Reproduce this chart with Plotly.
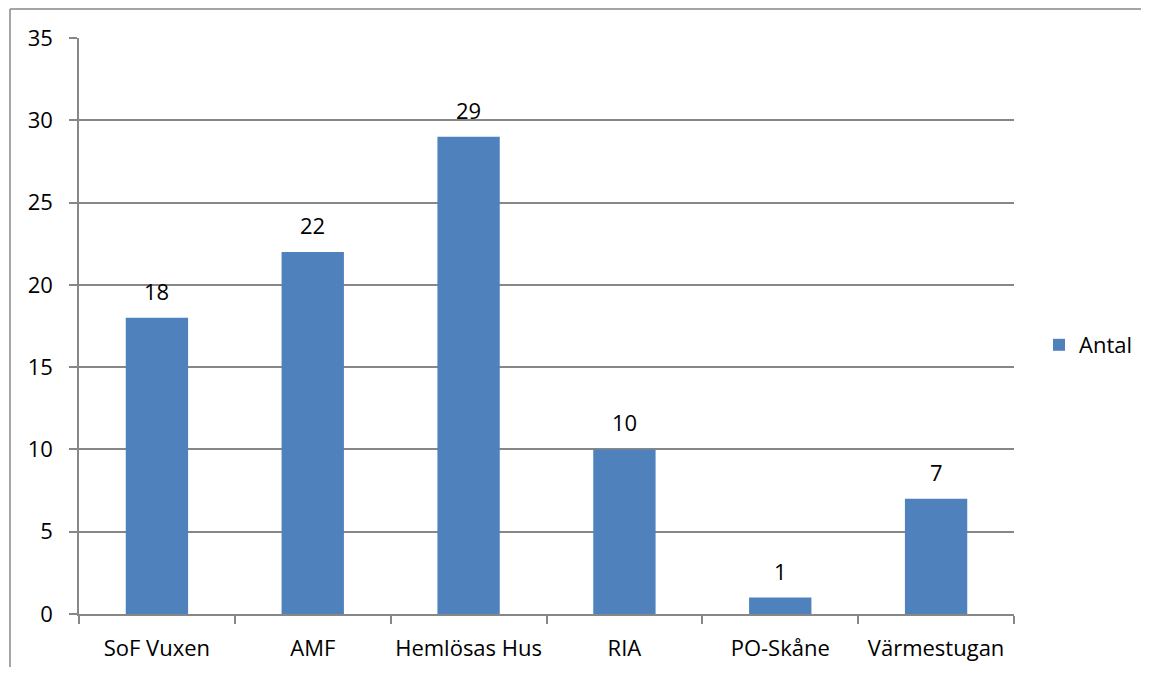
import plotly.graph_objects as go

categories = ["SoF Vuxen", "AMF", "Hemlösas Hus", "RIA", "PO-Skåne", "Värmestugan"]
values = [18, 22, 29, 10, 1, 7]
series_name = "Antal"
y_ticks = [0, 5, 10, 15, 20, 25, 30, 35]

# page has an 8px body margin; figure coordinates = page coordinates - 8
OFF = 8
W, H = 1133, 659
L, T = 79 - OFF, 38 - OFF
R = W - (1014 - OFF)
B = H - (614 - OFF)
pw, ph = W - L - R, H - T - B

def px(xp):
    return (xp - OFF - L) / pw

def py(yp):
    return (H - B - (yp - OFF)) / ph

FONT = "Open Sans"
FS = 22
GREY = "#878787"

fig = go.Figure()
fig.add_trace(go.Bar(
    x=categories, y=values, name=series_name,
    marker=dict(color="#4F81BD", line=dict(width=0)),
    showlegend=True,
))

for c, v in zip(categories, values):
    fig.add_annotation(x=c, y=v, text=str(v), showarrow=False,
                       yanchor="bottom", yshift=10,
                       font=dict(family=FONT, size=FS, color="#000000"))

fig.update_layout(
    template="none",
    width=W, height=H,
    margin=dict(l=L, r=R, t=T, b=B, pad=0, autoexpand=False),
    paper_bgcolor="white", plot_bgcolor="white",
    bargap=0.6,
    font=dict(family=FONT, size=FS, color="#000000"),
    showlegend=True,
    legend=dict(x=px(1039), y=py(345), xanchor="left", yanchor="middle",
                font=dict(family=FONT, size=FS, color="#000000"),
                itemwidth=30, bgcolor="rgba(0,0,0,0)", borderwidth=0),
    xaxis=dict(
        showgrid=False, showline=True, linecolor=GREY, linewidth=1.5,
        ticks="outside", tickson="boundaries", ticklen=8, tickcolor=GREY, tickwidth=1.5,
        tickfont=dict(family=FONT, size=FS, color="#000000"),
        tickangle=0, automargin=False,
        ticklabelstandoff=14,
        fixedrange=True,
    ),
    yaxis=dict(
        range=[0, 35], tickvals=y_ticks, showgrid=True, gridcolor=GREY, gridwidth=1.5,
        showline=True, linecolor=GREY, linewidth=1.5,
        ticks="outside", ticklen=8, tickcolor=GREY, tickwidth=1.5,
        tickfont=dict(family=FONT, size=FS, color="#000000"),
        ticklabelstandoff=12, automargin=False,
        zeroline=False, fixedrange=True,
    ),
    shapes=[
        dict(type="line", xref="paper", yref="paper", x0=px(10), x1=px(10),
             y0=py(9), y1=py(675), line=dict(color=GREY, width=1.5)),
        dict(type="line", xref="paper", yref="paper", x0=px(10), x1=px(1160),
             y0=py(9), y1=py(9), line=dict(color=GREY, width=1.5)),
    ],
)

fig.write_html("out.html")
